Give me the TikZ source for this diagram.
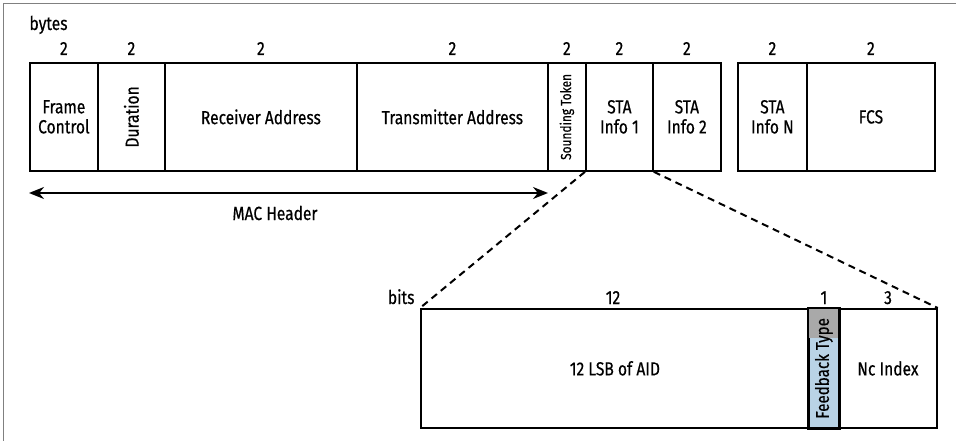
\documentclass[tikz,border=0pt]{standalone}
\usepackage{fontspec}
\setmainfont{Fira Sans}[FakeStretch=0.82, FakeBold=0.5]
\usetikzlibrary{arrows.meta}
\definecolor{fbblue}{HTML}{B9D3E6}
\definecolor{fbgrey}{HTML}{A9A9A9}
\tikzset{
  field/.style={draw, line width=1.8pt, inner sep=0pt, anchor=north west, align=center, font=\fontsize{19}{20}\selectfont},
  topfield/.style={field, minimum height=108pt},
  botfield/.style={field, minimum height=119pt},
  size/.style={font=\fontsize{19}{20}\selectfont, anchor=base},
  zoomline/.style={line width=2pt, dash pattern=on 7pt off 5pt},
}
\begin{document}
\begin{tikzpicture}[x=1pt,y=-1pt]
\useasboundingbox (0,0) rectangle (956,441);
\draw[gray, line width=0.8pt] (3,441) -- (3,3) -- (956,3);
% top row
\node[size, anchor=base west] (bytes) at (26,30) {bytes};
\node[topfield, minimum width=68pt] (fc) at (29,62) {Frame\\Control};
\node[topfield, minimum width=67pt] (dur) at (97,62) {\rotatebox{90}{Duration}};
\node[topfield, minimum width=192pt] (ra) at (164,62) {Receiver Address};
\node[topfield, minimum width=191pt] (ta) at (356,62) {Transmitter Address};
\node[topfield, minimum width=38pt, font=\fontsize{14.5}{15}\selectfont] (st) at (547,62) {\rotatebox{90}{Sounding Token}};
\node[topfield, minimum width=67pt] (s1) at (585,62) {STA\\Info 1};
\node[topfield, minimum width=68pt] (s2) at (652,62) {STA\\Info 2};
\node[topfield, minimum width=69pt] (sn) at (737,62) {STA\\Info N};
\node[topfield, minimum width=128pt] (fcs) at (806,62) {FCS};
\foreach \n in {fc,dur,ra,ta,st,s1,s2,sn,fcs}{
  \node[size] at ([yshift=7pt]\n.north) {2};
}
% MAC header arrow
\coordinate (mh1) at (29,193);
\coordinate (mh2) at (548,193);
\draw[line width=2pt, {Stealth[length=15pt,width=12pt]}-{Stealth[length=15pt,width=12pt]}] (mh1) -- (mh2);
\node[size] (mhl) at (275,220) {MAC Header};
% bottom row
\node[botfield, minimum width=388pt] (aid) at (420,308) {12 LSB of AID};
\node[botfield, minimum width=30pt, fill=fbblue] (fb) at (808,308) {};
\fill[fbgrey] ([xshift=0.9pt,yshift=-0.9pt]fb.north west) rectangle ([xshift=-0.9pt]fb.east |- 0,338);
\draw[line width=1.8pt] (fb.north west) rectangle (fb.south east);
\node[font=\fontsize{18.5}{19}\selectfont, inner sep=0pt] (fbt) at (fb.center) {\rotatebox{90}{Feedback Type}};
\node[botfield, minimum width=98pt] (nc) at (838,308) {Nc Index};
\node[size] at (613,304) {12};
\node[size] at (fb.north |- 0,304) {1};
\node[size] at (888,304) {3};
\node[size, anchor=base east] (bits) at (418,304) {bits};
% zoom lines
\draw[zoomline] (s1.south west) -- (aid.north west);
\draw[zoomline] (s1.south east) -- (nc.north east);
\end{tikzpicture}
\end{document}
